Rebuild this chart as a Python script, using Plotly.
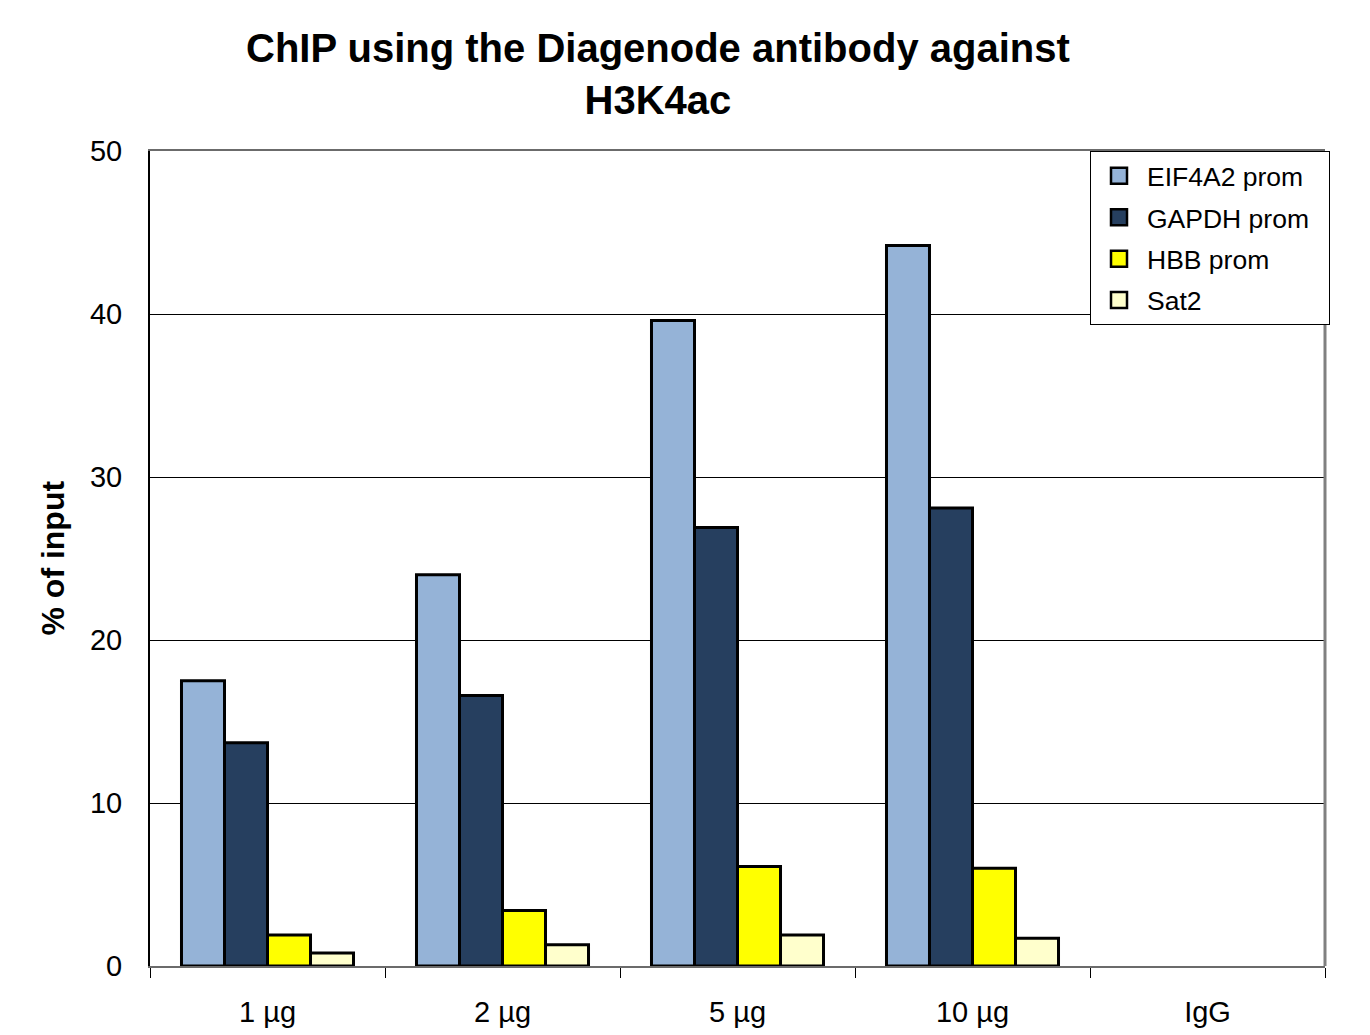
import plotly.graph_objects as go

categories = ["1 µg", "2 µg", "5 µg", "10 µg", "IgG"]
series_names = ["EIF4A2 prom", "GAPDH prom", "HBB prom", "Sat2"]
eif4a2 = [17.5, 24.0, 39.6, 44.2, None]
gapdh = [13.7, 16.6, 26.9, 28.1, None]
hbb = [1.9, 3.4, 6.1, 6.0, None]
sat2 = [0.8, 1.3, 1.9, 1.7, None]
colors = ["#95B3D7", "#263F5F", "#FFFF00", "#FFFFCC"]
y_ticks = [0, 10, 20, 30, 40, 50]

FONT = "Liberation Sans, Arial, sans-serif"

fig = go.Figure()
for i, (name, vals, col) in enumerate(zip(series_names, [eif4a2, gapdh, hbb, sat2], colors)):
    fig.add_trace(go.Bar(
        x=categories, y=vals, name=name, showlegend=False,
        marker=dict(color=col, line=dict(color="black", width=3)),
    ))
# legend entries (square swatches)
for i, (name, col) in enumerate(zip(series_names, colors)):
    label = name + ("&nbsp;&nbsp;" if name == "GAPDH prom" else "")
    fig.add_trace(go.Scatter(
        x=[None], y=[None], mode="markers", name=label, legendgroup=f"g{i}",
        marker=dict(symbol="square", size=16, color=col,
                    line=dict(color="black", width=2.5)),
    ))

fig.update_layout(
    width=1370, height=1035,
    margin=dict(l=150, r=45, t=151, b=69, autoexpand=False),
    paper_bgcolor="white", plot_bgcolor="white",
    barmode="group", bargap=0.268, bargroupgap=0,
    font=dict(family=FONT, size=26, color="black"),
    showlegend=True,
    legend=dict(
        x=0.8, y=1.0, xanchor="left", yanchor="top",
        bordercolor="black", borderwidth=1, bgcolor="white",
        font=dict(family=FONT, size=26.5, color="black"),
        itemwidth=46, tracegroupgap=4, itemsizing="trace",
    ),
    xaxis=dict(
        type="category", showline=True, linecolor="#6b6b6b", linewidth=2,
        mirror=True, ticks="outside", tickson="boundaries", ticklen=10,
        tickcolor="black", tickwidth=1, showgrid=False, automargin=False,
        tickfont=dict(family=FONT, size=29), ticklabelstandoff=19,
    ),
    yaxis=dict(
        range=[0, 50], tickvals=y_ticks, showline=True, linecolor="black",
        linewidth=2, showgrid=True, gridcolor="black", gridwidth=1,
        ticks="", tickfont=dict(family=FONT, size=29), ticklabelstandoff=20,
        zeroline=False, automargin=False,
    ),
    annotations=[
        dict(text="<b>ChIP using the Diagenode antibody against<br>H3K4ac</b>",
             xref="paper", yref="paper", x=0.432, y=1.0, yshift=77,
             xanchor="center", yanchor="middle", showarrow=False,
             font=dict(family=FONT, size=40, color="black")),
        dict(text="<b>% of input</b>", xref="paper", yref="paper",
             x=-0.0834, y=0.5, xanchor="center", yanchor="middle",
             textangle=-90, showarrow=False,
             font=dict(family=FONT, size=32, color="black")),
    ],
    shapes=[
        dict(type="line", xref="paper", yref="paper", x0=1, x1=1, y0=0, y1=1,
             line=dict(color="#808080", width=3)),
    ],
)

fig.write_html("out.html")
